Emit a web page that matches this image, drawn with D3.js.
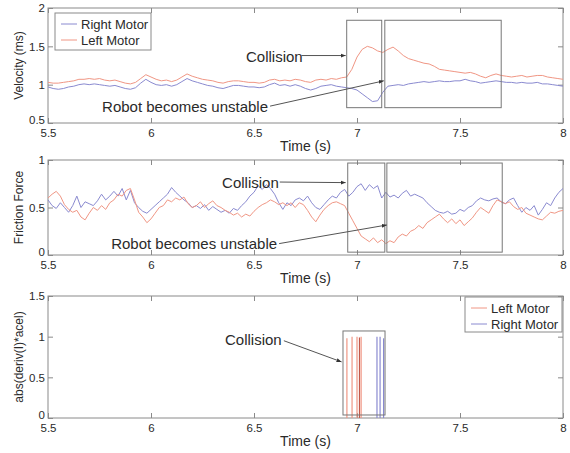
<!DOCTYPE html>
<html>
<head>
<meta charset="utf-8">
<script src="https://cdn.jsdelivr.net/npm/d3@7"></script>
<style>
  body { margin: 0; background: #fff; }
  text { font-family: "Liberation Sans", Arial, sans-serif; fill: #2a2a2a; }
</style>
</head>
<body>
<div id="chart"></div>
<script>
// sample grids: velocity every 0.025 s, friction every 0.02 s, from 5.5 s
var velStart = 5.5, velStep = 0.025;
var fricStart = 5.5, fricStep = 0.02;

var velRight = [0.97, 0.95, 0.94, 0.95, 0.97, 0.98, 1.00, 1.01, 1.00, 1.01,
    1.00, 0.99, 0.98, 0.99, 0.97, 0.95, 0.94, 0.96, 1.02, 1.07,
    1.03, 1.00, 0.99, 1.00, 0.98, 1.00, 1.04, 1.08, 1.05, 1.03,
    1.01, 0.99, 0.98, 0.96, 0.95, 0.97, 0.99, 0.99, 0.98, 0.97,
    0.97, 0.96, 0.97, 1.00, 1.02, 0.99, 1.00, 0.98, 1.00, 0.98,
    0.95, 0.93, 0.95, 0.98, 0.99, 1.00, 0.98, 0.97, 0.96, 0.95,
    0.93, 0.88, 0.83, 0.78, 0.79, 0.90, 0.98, 0.99, 1.00, 0.99,
    1.01, 1.02, 1.03, 1.04, 1.03, 1.04, 1.05, 1.04, 1.04, 1.05,
    1.05, 1.07, 1.05, 1.04, 1.02, 1.03, 1.04, 1.05, 1.04, 1.03,
    1.03, 1.02, 1.03, 1.02, 1.02, 1.03, 1.01, 1.01, 1.00, 0.99, 0.98];

var velLeft = [1.03, 1.02, 1.02, 1.03, 1.04, 1.05, 1.07, 1.07, 1.08, 1.07,
    1.08, 1.06, 1.05, 1.06, 1.04, 1.02, 1.01, 1.03, 1.08, 1.13,
    1.10, 1.07, 1.05, 1.06, 1.04, 1.06, 1.10, 1.14, 1.11, 1.09,
    1.07, 1.06, 1.05, 1.03, 1.02, 1.04, 1.05, 1.05, 1.04, 1.03,
    1.03, 1.02, 1.03, 1.06, 1.07, 1.05, 1.06, 1.05, 1.07, 1.06,
    1.04, 1.03, 1.06, 1.07, 1.06, 1.08, 1.07, 1.09, 1.10, 1.20,
    1.36, 1.46, 1.50, 1.48, 1.44, 1.42, 1.46, 1.49, 1.44, 1.38,
    1.34, 1.32, 1.30, 1.28, 1.27, 1.24, 1.20, 1.19, 1.18, 1.17,
    1.16, 1.15, 1.16, 1.14, 1.11, 1.09, 1.12, 1.14, 1.12, 1.11,
    1.10, 1.11, 1.12, 1.10, 1.11, 1.12, 1.12, 1.10, 1.09, 1.08, 1.07];

var fricRight = [0.58, 0.52, 0.49, 0.55, 0.50, 0.45, 0.52, 0.62, 0.50, 0.56,
    0.54, 0.52, 0.57, 0.64, 0.58, 0.62, 0.67, 0.62, 0.70, 0.58,
    0.68, 0.55, 0.50, 0.46, 0.44, 0.48, 0.52, 0.56, 0.60, 0.64,
    0.71, 0.66, 0.62, 0.58, 0.55, 0.50, 0.52, 0.49, 0.53, 0.47,
    0.51, 0.48, 0.45, 0.47, 0.44, 0.49, 0.47, 0.52, 0.56, 0.62,
    0.66, 0.73, 0.69, 0.74, 0.70, 0.64, 0.55, 0.48, 0.55, 0.52,
    0.58, 0.60, 0.57, 0.62, 0.55, 0.50, 0.48, 0.53, 0.58, 0.62,
    0.60, 0.66, 0.69, 0.62, 0.66, 0.72, 0.75, 0.68, 0.74, 0.70,
    0.73, 0.60, 0.66, 0.61, 0.63, 0.60, 0.65, 0.68, 0.62, 0.64,
    0.62, 0.60, 0.55, 0.51, 0.47, 0.45, 0.44, 0.46, 0.43, 0.44,
    0.48, 0.46, 0.50, 0.52, 0.57, 0.60, 0.58, 0.57, 0.59, 0.60,
    0.56, 0.54, 0.58, 0.60, 0.52, 0.45, 0.50, 0.47, 0.52, 0.42,
    0.48, 0.55, 0.52, 0.60, 0.66, 0.70];

var fricLeft = [0.60, 0.64, 0.67, 0.62, 0.53, 0.48, 0.45, 0.47, 0.40, 0.37,
    0.44, 0.50, 0.47, 0.52, 0.48, 0.55, 0.58, 0.64, 0.62, 0.68,
    0.70, 0.58, 0.45, 0.40, 0.34, 0.38, 0.44, 0.50, 0.52, 0.58,
    0.56, 0.60, 0.58, 0.61, 0.54, 0.50, 0.52, 0.56, 0.50, 0.54,
    0.57, 0.52, 0.50, 0.47, 0.45, 0.42, 0.44, 0.40, 0.43, 0.41,
    0.46, 0.50, 0.53, 0.55, 0.58, 0.56, 0.53, 0.55, 0.52, 0.55,
    0.50, 0.55, 0.53, 0.47, 0.40, 0.35, 0.42, 0.48, 0.52, 0.55,
    0.56, 0.54, 0.52, 0.44, 0.36, 0.28, 0.20, 0.17, 0.14, 0.18,
    0.13, 0.16, 0.12, 0.15, 0.13, 0.19, 0.22, 0.20, 0.25, 0.27,
    0.31, 0.28, 0.34, 0.37, 0.40, 0.43, 0.38, 0.34, 0.38, 0.33,
    0.37, 0.31, 0.35, 0.39, 0.45, 0.50, 0.47, 0.44, 0.52, 0.58,
    0.56, 0.54, 0.56, 0.51, 0.48, 0.50, 0.44, 0.42, 0.40, 0.38,
    0.37, 0.41, 0.45, 0.44, 0.46, 0.47];

// abs(deriv(I)*acel) is zero except for short spikes
var derivLeftT = [6.951, 6.976, 7.000, 7.012, 7.020];
var derivLeftV = [0.98, 1.00, 1.00, 0.99, 1.00];
var derivRightT = [7.097, 7.112, 7.129];
var derivRightV = [1.00, 1.00, 0.98];

var xTicks = [5.5, 6, 6.5, 7, 7.5, 8];
var velTicks = [0.5, 1, 1.5, 2];
var fricTicks = [0, 0.5, 1];
var derivTicks = [0, 0.5, 1, 1.5];

var leftColor = "#f09684";
var rightColor = "#8a8ad0";
var boxColor = "#777";
var axisColor = "#8a8a8a";

var W = 570, H = 453;
var svg = d3.select("#chart").append("svg")
    .attr("width", W).attr("height", H);

svg.append("defs").append("marker")
    .attr("id", "arr")
    .attr("viewBox", "0 0 10 10")
    .attr("refX", 10).attr("refY", 5)
    .attr("markerWidth", 5).attr("markerHeight", 5)
    .attr("orient", "auto")
    .append("path").attr("d", "M0,1 L10,5 L0,9 z").attr("fill", "#333");

var x = d3.scaleLinear().domain([5.5, 8]).range([48, 563]);

function makePanel(top, bottom, yDomain, yTicks, yLabel) {
    var y = d3.scaleLinear().domain(yDomain).range([bottom, top]);
    var g = svg.append("g");

    g.append("rect")
        .attr("x", x(5.5)).attr("y", top)
        .attr("width", x(8) - x(5.5)).attr("height", bottom - top)
        .attr("fill", "none").attr("stroke", axisColor);

    var fmt = function (d) { return String(d); };
    var ax = [
        d3.axisBottom(x).tickValues(xTicks).tickFormat(fmt).tickSize(-5).tickPadding(6),
        d3.axisTop(x).tickValues(xTicks).tickFormat("").tickSize(-5),
        d3.axisLeft(y).tickValues(yTicks).tickFormat(fmt).tickSize(-5).tickPadding(3),
        d3.axisRight(y).tickValues(yTicks).tickFormat("").tickSize(-5)
    ];
    var pos = ["translate(0," + bottom + ")", "translate(0," + top + ")",
        "translate(" + x(5.5) + ",0)", "translate(" + x(8) + ",0)"];
    ax.forEach(function (a, i) {
        var ag = g.append("g").attr("transform", pos[i]).call(a);
        ag.select(".domain").remove();
        ag.selectAll("line").attr("stroke", axisColor);
        ag.selectAll("text")
            .attr("font-family", "Liberation Sans, Arial, sans-serif")
            .attr("font-size", 11.5).attr("fill", "#2a2a2a");
        if (i === 2) {
            // lowest y label sits a little higher, clear of the first x label
            ag.selectAll("text").filter(function (d) { return d === yDomain[0]; })
                .attr("dy", "0.02em");
        }
    });

    g.append("text")
        .attr("x", (x(5.5) + x(8)) / 2).attr("y", bottom + 28)
        .attr("text-anchor", "middle").attr("font-size", 14)
        .text("Time (s)");

    g.append("text")
        .attr("transform", "translate(23," + (top + bottom) / 2 + ") rotate(-90)")
        .attr("text-anchor", "middle").attr("font-size", 12)
        .text(yLabel);

    return { g: g, y: y };
}

function drawSeries(p, start, step, values, color) {
    var line = d3.line()
        .x(function (d, i) { return x(start + i * step); })
        .y(function (d) { return p.y(d); });
    p.g.append("path")
        .datum(values)
        .attr("d", line)
        .attr("fill", "none")
        .attr("stroke", color)
        .attr("stroke-width", 1);
}

function drawBox(p, t0, t1, v0, v1) {
    p.g.append("rect")
        .attr("x", x(t0)).attr("y", p.y(v1))
        .attr("width", x(t1) - x(t0)).attr("height", p.y(v0) - p.y(v1))
        .attr("fill", "none").attr("stroke", boxColor).attr("stroke-width", 1);
}

function drawNote(p, label, tx, ty, anchor, t0, v0, t1, v1) {
    p.g.append("text")
        .attr("x", x(tx)).attr("y", p.y(ty)).attr("dy", "0.35em")
        .attr("text-anchor", anchor).attr("font-size", 15)
        .text(label);
    p.g.append("line")
        .attr("x1", x(t0)).attr("y1", p.y(v0))
        .attr("x2", x(t1)).attr("y2", p.y(v1))
        .attr("stroke", "#555").attr("stroke-width", 1)
        .attr("marker-end", "url(#arr)");
}

function drawLegend(p, bx, by, bw, bh, items) {
    var lg = p.g.append("g");
    lg.append("rect")
        .attr("x", bx).attr("y", by).attr("width", bw).attr("height", bh)
        .attr("fill", "#fff").attr("stroke", axisColor);
    items.forEach(function (it, i) {
        var yy = by + 11 + i * 16;
        lg.append("line")
            .attr("x1", bx + 6).attr("x2", bx + 22)
            .attr("y1", yy).attr("y2", yy)
            .attr("stroke", it.color);
        lg.append("text")
            .attr("x", bx + 26).attr("y", yy).attr("dy", "0.35em")
            .attr("font-size", 13)
            .text(it.name);
    });
}

// Panel 1: velocity
var p1 = makePanel(8, 123, [0.5, 2], velTicks, "Velocity (ms)");
drawSeries(p1, velStart, velStep, velRight, rightColor);
drawSeries(p1, velStart, velStep, velLeft, leftColor);
drawBox(p1, 6.95, 7.12, 0.70, 1.84);
drawBox(p1, 7.135, 7.70, 0.70, 1.84);
drawNote(p1, "Collision", 6.461, 1.37, "start", 6.73, 1.38, 6.945, 1.38);
drawNote(p1, "Robot becomes unstable", 6.568, 0.71, "end", 6.578, 0.72, 7.13, 1.05);
drawLegend(p1, 55, 13, 96, 37, [
    { name: "Right Motor", color: rightColor },
    { name: "Left Motor", color: leftColor }
]);

// Panel 2: friction force
var p2 = makePanel(160, 255, [0, 1], fricTicks, "Friction Force");
drawSeries(p2, fricStart, fricStep, fricRight, rightColor);
drawSeries(p2, fricStart, fricStep, fricLeft, leftColor);
drawBox(p2, 6.955, 7.135, 0.03, 0.968);
drawBox(p2, 7.145, 7.705, 0.03, 0.968);
drawNote(p2, "Collision", 6.345, 0.758, "start", 6.625, 0.768, 6.945, 0.762);
drawNote(p2, "Robot becomes unstable", 6.612, 0.116, "end", 6.622, 0.12, 7.145, 0.316);

// Panel 3: abs(deriv(I)*acel)
var p3 = makePanel(296, 418, [0, 1.5], derivTicks, "abs(deriv(I)*acel)");
derivLeftT.forEach(function (t, i) {
    p3.g.append("line")
        .attr("x1", x(t)).attr("x2", x(t))
        .attr("y1", p3.y(0)).attr("y2", p3.y(derivLeftV[i]))
        .attr("stroke", i === 3 ? "#c0584a" : leftColor).attr("stroke-width", 1.2);
});
derivRightT.forEach(function (t, i) {
    p3.g.append("line")
        .attr("x1", x(t)).attr("x2", x(t))
        .attr("y1", p3.y(0)).attr("y2", p3.y(derivRightV[i]))
        .attr("stroke", rightColor).attr("stroke-width", 1.2);
});
drawBox(p3, 6.932, 7.136, 0.037, 1.07);
drawNote(p3, "Collision", 6.359, 0.96, "start", 6.645, 0.95, 6.925, 0.69);
drawLegend(p3, 465, 297, 97, 35, [
    { name: "Left Motor", color: leftColor },
    { name: "Right Motor", color: rightColor }
]);
</script>
</body>
</html>
